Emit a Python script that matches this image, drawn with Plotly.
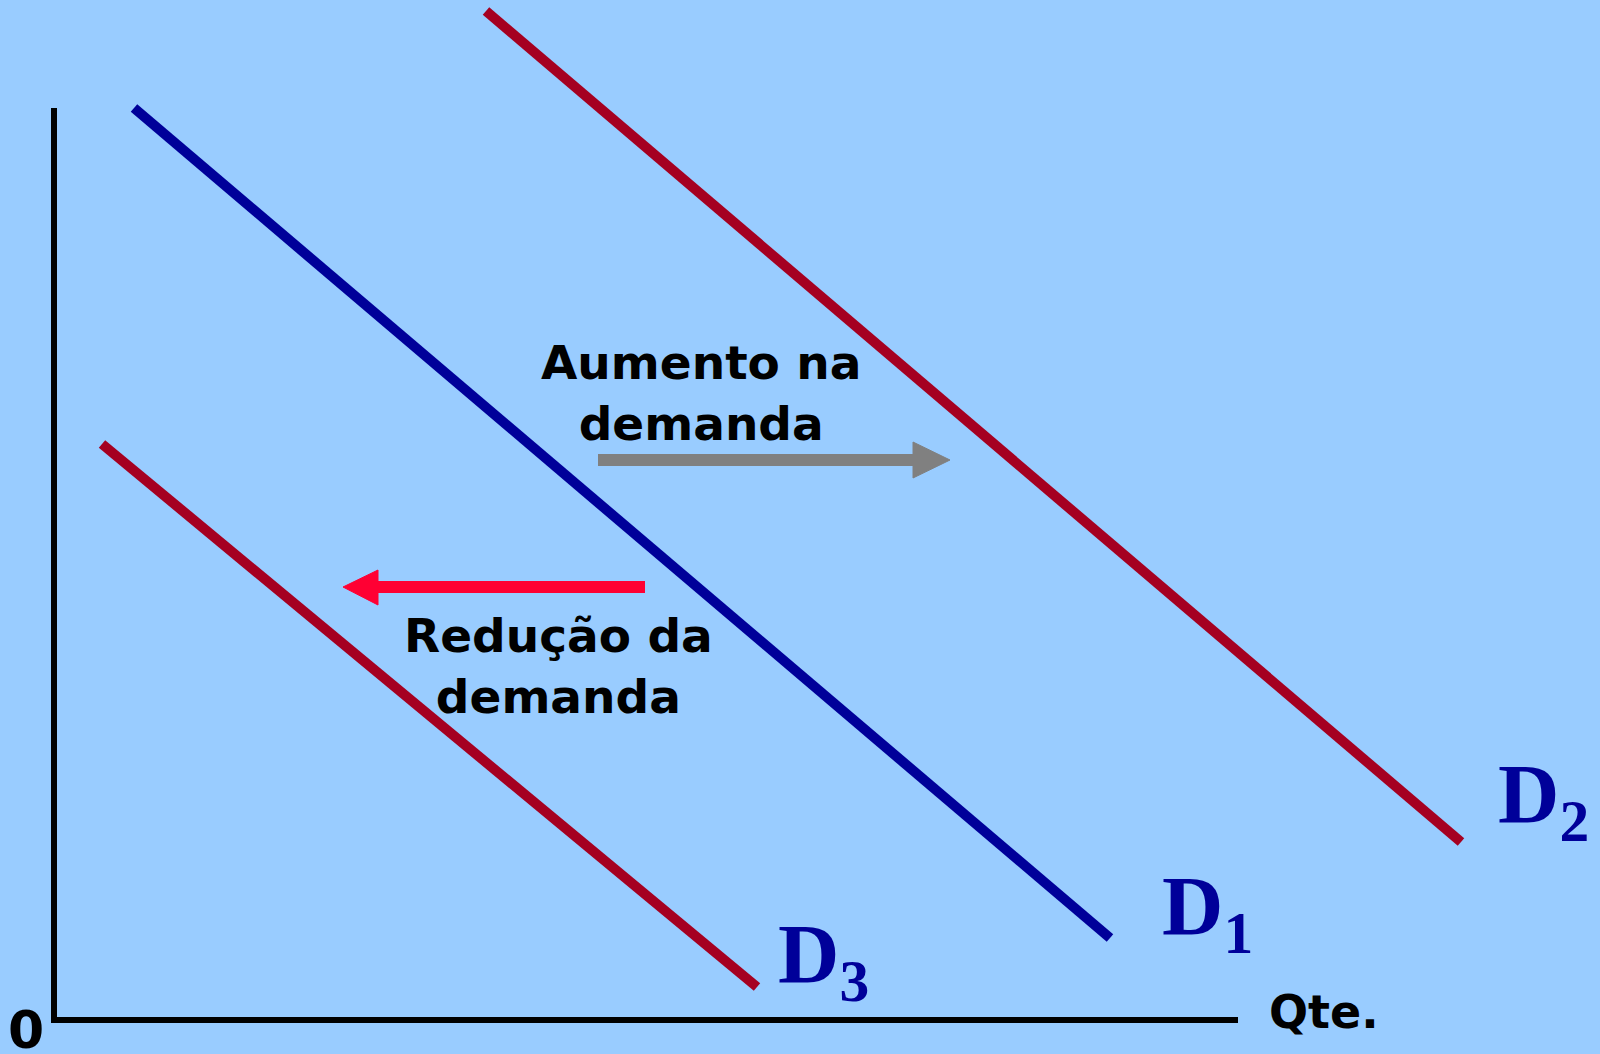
"""Deslocamento da curva de demanda (D1 -> D2 / D3)."""

import plotly.graph_objects as go

# Curvas de demanda: quantidade (x) e preço (y) nos extremos de cada reta
q_d1 = [80, 1056]
p_d1 = [912, 82]
q_d2 = [432, 1407]
p_d2 = [1009, 178]
q_d3 = [48, 703]
p_d3 = [576, 33]

# Eixos
axis_q = [0, 0, 1184]
axis_p = [912, 0, 0]

# Setas de deslocamento (haste: início, fim; ponta)
up_shaft_q = [544, 859]
up_shaft_p = [560, 560]
up_head_q = [859, 859, 896, 859]
up_head_p = [578, 542, 560, 578]

down_shaft_q = [591, 324]
down_shaft_p = [433, 433]
down_head_q = [324, 324, 289, 324]
down_head_p = [450, 415, 433, 450]

BG = '#99CCFF'
RED = '#A50021'
BLUE = '#000099'
TXT_FONT = 'DejaVu Sans'
SERIF = 'Liberation Serif'

fig = go.Figure()

fig.add_trace(go.Scatter(x=axis_q, y=axis_p, mode='lines', line=dict(color='black', width=6)))
fig.add_trace(go.Scatter(x=q_d2, y=p_d2, mode='lines', line=dict(color=RED, width=10)))
fig.add_trace(go.Scatter(x=q_d1, y=p_d1, mode='lines', line=dict(color=BLUE, width=10)))
fig.add_trace(go.Scatter(x=q_d3, y=p_d3, mode='lines', line=dict(color=RED, width=10)))

# seta cinza (aumento)
fig.add_trace(go.Scatter(x=up_shaft_q, y=up_shaft_p, mode='lines', line=dict(color='#808080', width=12)))
fig.add_trace(go.Scatter(x=up_head_q, y=up_head_p, mode='lines', fill='toself',
                         fillcolor='#808080', line=dict(color='#808080', width=1)))
# seta vermelha (redução)
fig.add_trace(go.Scatter(x=down_shaft_q, y=down_shaft_p, mode='lines', line=dict(color='#FF0033', width=12)))
fig.add_trace(go.Scatter(x=down_head_q, y=down_head_p, mode='lines', fill='toself',
                         fillcolor='#FF0033', line=dict(color='#FF0033', width=1)))

# textos
fig.add_annotation(x=647, y=627, text='Aumento na<br>demanda', showarrow=False,
                   font=dict(family=TXT_FONT, size=47, color='black', weight='bold'))
fig.add_annotation(x=504, y=354, text='Redução da<br>demanda', showarrow=False,
                   font=dict(family=TXT_FONT, size=47, color='black', weight='bold'))
fig.add_annotation(x=-28, y=-10, text='0', showarrow=False,
                   font=dict(family=TXT_FONT, size=52, color='black', weight='bold'))
fig.add_annotation(x=1270, y=8, text='Qte.', showarrow=False,
                   font=dict(family=TXT_FONT, size=46, color='black', weight='bold'))

labels = [('D<sub>2</sub>', 1442, 220), ('D<sub>1</sub>', 1106, 108), ('D<sub>3</sub>', 722, 60)]
for txt, lx, ly in labels:
    fig.add_annotation(x=lx, y=ly, text=txt, showarrow=False, xanchor='left', yanchor='middle',
                       font=dict(family=SERIF, size=85, color=BLUE, weight='bold'))

fig.update_xaxes(range=[-54, 1546], visible=False, fixedrange=True)
fig.update_yaxes(range=[-34, 1020], visible=False, fixedrange=True)
fig.update_layout(
    width=1600, height=1054,
    margin=dict(l=0, r=0, t=0, b=0),
    paper_bgcolor=BG, plot_bgcolor=BG,
    showlegend=False,
)

# sem margem do body, para a figura ocupar a janela inteira
fig.write_html("out.html", config={'displayModeBar': False},
               post_script="document.body.style.margin='0';")
